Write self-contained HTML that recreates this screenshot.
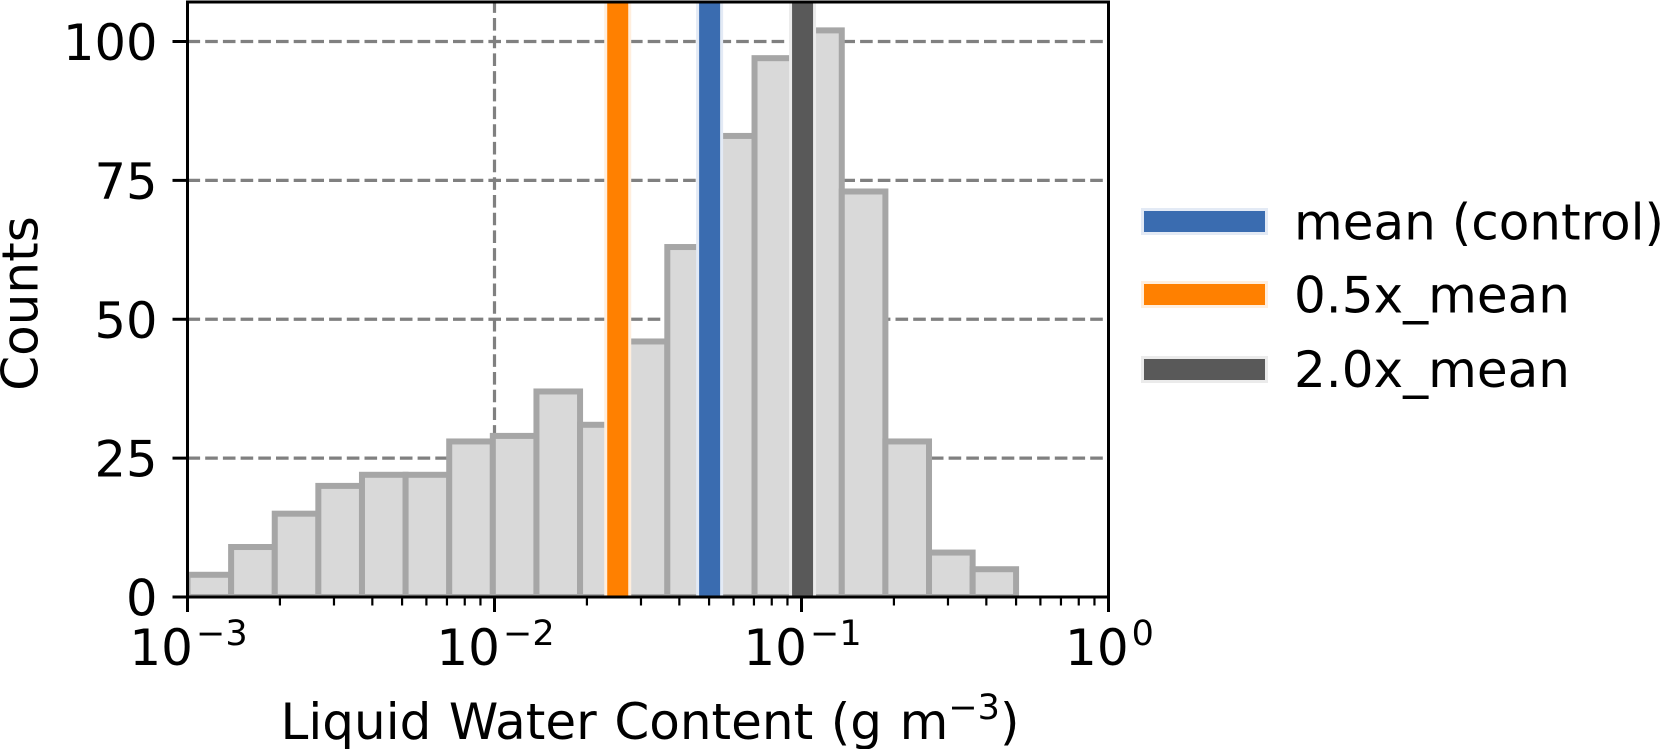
<!DOCTYPE html>
<html lang="en">
<head>
<meta charset="utf-8">
<title>Liquid Water Content histogram</title>
<style>
html,body{margin:0;padding:0;background:#fff;width:1660px;height:749px;overflow:hidden}
svg{display:block}
text{font-family:"DejaVu Sans","Liberation Sans",sans-serif;fill:#000}
</style>
</head>
<body>
<svg id="chart" xmlns="http://www.w3.org/2000/svg" width="1660" height="749" viewBox="0 0 1660 749">
  <defs><clipPath id="plot-clip"><rect x="187.5" y="2" width="921" height="595"/></clipPath></defs>
  <g id="grid"></g>
  <g id="bars" clip-path="url(#plot-clip)"></g>
  <g id="markers" clip-path="url(#plot-clip)"></g>
  <g id="ticks"></g>
  <rect x="187.5" y="2" width="921" height="595" fill="none" stroke="#000" stroke-width="3"/>
  <g id="tick-labels"></g>
  <text font-size="50" text-anchor="middle" transform="translate(37.5,303.5) rotate(-90)">Counts</text>
  <text font-size="50" word-spacing="1.7" text-anchor="middle" x="650" y="739">Liquid Water Content (g m<tspan font-size="35" dy="-20">−3</tspan><tspan dy="20">)</tspan></text>
  <g id="legend"></g>
</svg>
<script>
const binEdges = [0.001, 0.001387, 0.001924, 0.002668, 0.003701, 0.005133, 0.00712, 0.009875, 0.013697, 0.018998, 0.02635, 0.03655, 0.05069, 0.07031, 0.09752, 0.13526, 0.18761, 0.26022, 0.36093, 0.5];
const binCounts = [4, 9, 15, 20, 22, 22, 28, 29, 37, 31, 46, 63, 83, 97, 102, 73, 28, 8, 5];
const markerNames = ['mean (control)', '0.5x_mean', '2.0x_mean'];
const markerValues = [0.0502, 0.0252, 0.1008];
const markerColors = ['#3a6cb0', '#ff8000', '#595959'];
const markerHalos = ['#e3eaf5', '#ffeedd', '#ebebeb'];
const yTicks = [0, 25, 50, 75, 100];
const xExponents = [-3, -2, -1, 0];
const minorMultiples = [2, 3, 4, 5, 6, 7, 8, 9];

const NS = 'http://www.w3.org/2000/svg';
const xLeft = 187.5, xDecade = 307, xMinLog = -3;
const yBase = 597, yUnit = 5.555;
const sx = v => xLeft + (Math.log10(v) - xMinLog) * xDecade;
const sy = v => yBase - v * yUnit;
function make(tag, parent, attrs) {
  const el = document.createElementNS(NS, tag);
  for (const k in attrs) el.setAttribute(k, attrs[k]);
  parent.appendChild(el);
  return el;
}
const grid = document.getElementById('grid');
const bars = document.getElementById('bars');
const markers = document.getElementById('markers');
const ticks = document.getElementById('ticks');
const labels = document.getElementById('tick-labels');
const legend = document.getElementById('legend');
const gridStyle = {stroke: '#808080', 'stroke-width': 3.2, 'stroke-dasharray': '12.6 5.1', fill: 'none'};

yTicks.forEach(v => {
  if (v > 0) {
    const g = make('line', grid, Object.assign({x1: xLeft, x2: 1108.5, y1: sy(v), y2: sy(v)}, gridStyle));
    
    
  }
  const t = make('line', ticks, {x1: xLeft - 15, x2: xLeft, y1: sy(v), y2: sy(v), stroke: '#000', 'stroke-width': 3});
  
  
  const l = make('text', labels, {x: 157.5, y: sy(v) + 18.5, 'font-size': 49.5, 'text-anchor': 'end'});
  
  
  l.textContent = v;
});

xExponents.forEach((e, i) => {
  const x = sx(Math.pow(10, e));
  if (e > -3 && e < 0) {
    const g = make('line', grid, Object.assign({x1: x, x2: x, y1: yBase, y2: 2}, gridStyle));
    
    
  }
  const t = make('line', ticks, {x1: x, x2: x, y1: yBase, y2: yBase + 15, stroke: '#000', 'stroke-width': 3});
  
  
  if (i < xExponents.length - 1) {
    minorMultiples.forEach(m => {
      const mx = sx(m * Math.pow(10, e));
      const mt = make('line', ticks, {x1: mx, x2: mx, y1: yBase, y2: yBase + 8.5, stroke: '#000', 'stroke-width': 2.2});
      
      
    });
  }
  const l = make('text', labels, {x: x + 1, y: 665, 'font-size': 50, 'text-anchor': 'middle'});
  
  
  l.appendChild(document.createTextNode('10'));
  const s = make('tspan', l, {'font-size': 35, dy: -20, dx: 3});
  s.textContent = e < 0 ? '\u2212' + Math.abs(e) : String(e);
});

binCounts.forEach((c, i) => {
  const x0 = sx(binEdges[i]), x1 = sx(binEdges[i + 1]);
  const r = make('rect', bars, {x: x0, y: sy(c), width: x1 - x0, height: yBase - sy(c), fill: '#d9d9d9', stroke: '#a6a6a6', 'stroke-width': 6});
  
  
});

markerValues.forEach((v, i) => {
  const x = sx(v);
  const r = make('rect', markers, {x: x - 12, y: -10, width: 24, height: 620, fill: markerColors[i], stroke: markerHalos[i], 'stroke-width': 3});
  
  
});

const legendSwatchY = [221.5, 294.5, 369.5];
const legendTextY = [239.5, 312.5, 387];
markerNames.forEach((n, i) => {
  const r = make('rect', legend, {x: 1142.5, y: legendSwatchY[i] - 12, width: 124, height: 24, fill: markerColors[i], stroke: markerHalos[i], 'stroke-width': 3});
  
  
  const t = make('text', legend, {x: 1294, y: legendTextY[i], 'font-size': 50});
  
  
  t.textContent = n;
});
</script>
</body>
</html>
